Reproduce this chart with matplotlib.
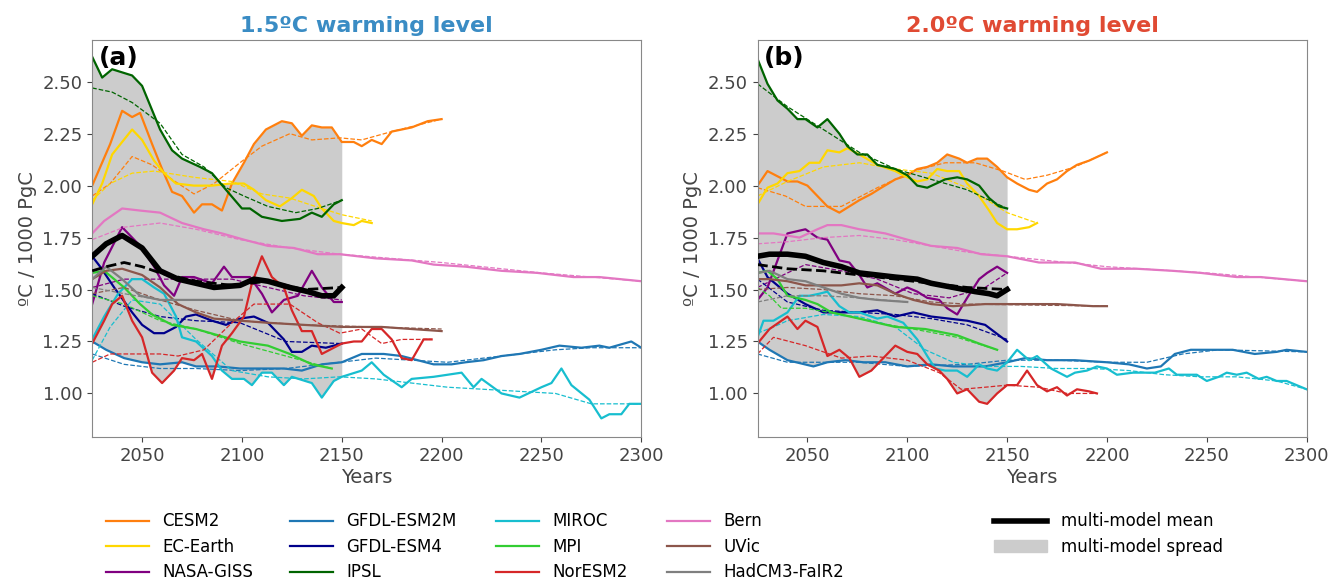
import matplotlib
matplotlib.use("Agg")
import matplotlib.pyplot as plt
import numpy as np
from matplotlib.patches import Patch
from matplotlib.lines import Line2D

# ---- panel (a): 1.5 C warming level; solid = annual series, *_fit = dashed smooth fit
cesm2_a = [(2025,2.00),(2034,2.20),(2040,2.36),(2045,2.33),(2049,2.35),(2055,2.20),(2060,2.08),(2065,1.97),(2070,1.95),(2076,1.87),(2080,1.91),(2085,1.91),(2090,1.88),(2095,2.01),(2101,2.11),(2106,2.20),(2112,2.27),(2120,2.31),(2125,2.30),(2130,2.24),(2135,2.29),(2140,2.28),(2145,2.28),(2150,2.21),(2156,2.21),(2160,2.19),(2165,2.22),(2170,2.20),(2175,2.26),(2185,2.28),(2193,2.31),(2200,2.32)]
cesm2_a_fit = [(2025,1.95),(2034,2.01),(2045,2.14),(2055,2.10),(2065,2.03),(2076,1.96),(2086,2.01),(2099,2.11),(2110,2.19),(2124,2.25),(2135,2.22),(2149,2.23),(2160,2.22),(2175,2.26),(2200,2.32)]
ecearth_a = [(2025,1.91),(2030,2.01),(2035,2.15),(2045,2.27),(2050,2.22),(2056,2.12),(2061,2.06),(2067,2.01),(2076,2.00),(2085,2.00),(2094,2.01),(2101,2.01),(2106,1.98),(2112,1.93),(2119,1.90),(2125,1.94),(2130,1.98),(2136,1.95),(2140,1.89),(2146,1.83),(2150,1.82),(2156,1.81),(2160,1.83),(2165,1.82)]
ecearth_a_fit = [(2025,1.93),(2034,2.01),(2045,2.06),(2056,2.07),(2076,2.04),(2095,2.02),(2110,1.96),(2124,1.94),(2140,1.89),(2150,1.86),(2165,1.83)]
nasa_a = [(2025,1.43),(2031,1.63),(2040,1.80),(2049,1.71),(2056,1.61),(2061,1.52),(2066,1.47),(2070,1.56),(2076,1.56),(2085,1.53),(2091,1.61),(2095,1.56),(2104,1.56),(2110,1.48),(2115,1.39),(2121,1.45),(2128,1.47),(2135,1.59),(2140,1.51),(2146,1.44),(2150,1.44)]
nasa_a_fit = [(2025,1.51),(2041,1.55),(2059,1.55),(2077,1.55),(2095,1.55),(2113,1.51),(2131,1.47),(2150,1.45)]
esm2m_a = [(2025,1.25),(2032,1.21),(2041,1.17),(2050,1.15),(2059,1.14),(2070,1.15),(2077,1.13),(2088,1.13),(2099,1.12),(2110,1.12),(2121,1.12),(2130,1.11),(2140,1.14),(2150,1.15),(2160,1.19),(2171,1.19),(2180,1.18),(2196,1.14),(2205,1.14),(2212,1.15),(2221,1.16),(2230,1.18),(2239,1.19),(2250,1.21),(2259,1.23),(2270,1.22),(2279,1.23),(2284,1.22),(2295,1.25),(2300,1.22)]
esm2m_a_fit = [(2025,1.19),(2041,1.14),(2059,1.12),(2077,1.12),(2099,1.11),(2122,1.12),(2149,1.15),(2167,1.17),(2185,1.16),(2203,1.15),(2221,1.17),(2239,1.19),(2257,1.21),(2275,1.22),(2300,1.22)]
esm4_a = [(2025,1.66),(2029,1.61),(2036,1.51),(2045,1.39),(2050,1.33),(2056,1.29),(2061,1.29),(2067,1.32),(2072,1.37),(2077,1.38),(2085,1.35),(2092,1.33),(2099,1.36),(2106,1.37),(2113,1.34),(2121,1.26),(2125,1.20),(2130,1.20),(2135,1.23),(2142,1.22),(2150,1.24)]
esm4_a_fit = [(2025,1.48),(2041,1.42),(2059,1.37),(2077,1.35),(2099,1.34),(2122,1.25),(2150,1.24)]
ipsl_a = [(2025,2.62),(2030,2.52),(2035,2.56),(2045,2.53),(2050,2.48),(2059,2.27),(2065,2.17),(2070,2.13),(2079,2.09),(2085,2.06),(2092,1.98),(2100,1.89),(2104,1.89),(2110,1.85),(2120,1.83),(2129,1.84),(2135,1.87),(2140,1.85),(2146,1.91),(2150,1.93)]
ipsl_a_fit = [(2025,2.47),(2035,2.45),(2045,2.40),(2059,2.30),(2070,2.15),(2081,2.09),(2092,1.99),(2101,1.95),(2113,1.90),(2127,1.87),(2138,1.89),(2150,1.93)]
miroc_a = [(2025,1.26),(2031,1.37),(2038,1.48),(2045,1.55),(2050,1.55),(2056,1.51),(2061,1.48),(2067,1.37),(2070,1.27),(2077,1.25),(2085,1.18),(2090,1.11),(2095,1.07),(2101,1.07),(2105,1.04),(2110,1.10),(2115,1.10),(2121,1.04),(2125,1.08),(2135,1.05),(2140,0.98),(2146,1.06),(2150,1.08),(2160,1.11),(2165,1.15),(2171,1.09),(2180,1.03),(2185,1.07),(2196,1.08),(2210,1.10),(2216,1.03),(2220,1.07),(2230,1.00),(2239,0.98),(2250,1.03),(2255,1.05),(2260,1.12),(2265,1.04),(2274,0.97),(2280,0.88),(2284,0.90),(2290,0.90),(2294,0.95),(2300,0.95)]
miroc_a_fit = [(2025,1.16),(2034,1.32),(2045,1.45),(2059,1.43),(2077,1.26),(2095,1.11),(2113,1.08),(2131,1.07),(2149,1.08),(2167,1.07),(2185,1.05),(2203,1.03),(2221,1.02),(2239,1.01),(2257,1.00),(2275,0.95),(2300,0.95)]
mpi_a = [(2025,1.58),(2031,1.59),(2036,1.55),(2041,1.51),(2049,1.43),(2055,1.38),(2065,1.33),(2077,1.31),(2088,1.28),(2099,1.25),(2113,1.23),(2124,1.19),(2135,1.14),(2145,1.12)]
mpi_a_fit = [(2025,1.47),(2041,1.43),(2059,1.35),(2077,1.31),(2099,1.24),(2122,1.18),(2145,1.12)]
noresm_a = [(2025,1.24),(2031,1.35),(2035,1.43),(2040,1.47),(2045,1.35),(2050,1.27),(2055,1.10),(2060,1.05),(2066,1.11),(2070,1.17),(2076,1.16),(2080,1.19),(2085,1.07),(2090,1.23),(2095,1.29),(2101,1.37),(2105,1.53),(2110,1.66),(2115,1.56),(2121,1.51),(2125,1.40),(2130,1.30),(2135,1.30),(2140,1.19),(2146,1.22),(2150,1.24),(2156,1.25),(2160,1.25),(2165,1.31),(2170,1.31),(2175,1.26),(2180,1.17),(2185,1.16),(2191,1.26),(2195,1.26)]
noresm_a_fit = [(2025,1.15),(2034,1.19),(2045,1.19),(2059,1.19),(2068,1.18),(2081,1.21),(2095,1.34),(2106,1.43),(2124,1.43),(2138,1.34),(2149,1.29),(2160,1.31),(2170,1.24),(2180,1.26),(2195,1.26)]
bern_a = [(2025,1.77),(2031,1.83),(2040,1.89),(2049,1.88),(2059,1.87),(2070,1.82),(2081,1.79),(2090,1.77),(2101,1.74),(2113,1.71),(2126,1.70),(2138,1.67),(2149,1.67),(2167,1.65),(2185,1.64),(2196,1.62),(2212,1.61),(2230,1.59),(2248,1.58),(2266,1.56),(2279,1.56),(2300,1.54)]
bern_a_fit = [(2025,1.74),(2041,1.80),(2059,1.82),(2077,1.79),(2099,1.74),(2124,1.70),(2149,1.67),(2200,1.63),(2250,1.58),(2300,1.54)]
uvic_a = [(2025,1.55),(2032,1.59),(2040,1.60),(2050,1.57),(2059,1.51),(2068,1.43),(2077,1.39),(2086,1.36),(2099,1.35),(2113,1.34),(2131,1.33),(2150,1.32),(2170,1.32),(2185,1.31),(2200,1.30)]
uvic_a_fit = [(2025,1.48),(2041,1.51),(2059,1.45),(2077,1.40),(2099,1.35),(2131,1.33),(2200,1.31)]
hadcm3_a = [(2025,1.55),(2032,1.61),(2040,1.55),(2049,1.47),(2059,1.45),(2077,1.45),(2100,1.45)]
hadcm3_a_fit = [(2025,1.51),(2041,1.48),(2059,1.45),(2100,1.45)]
mean_a = [(2025,1.66),(2032,1.72),(2040,1.76),(2050,1.70),(2059,1.59),(2068,1.55),(2077,1.53),(2086,1.51),(2099,1.52),(2106,1.55),(2113,1.54),(2124,1.51),(2133,1.49),(2140,1.47),(2146,1.47),(2150,1.51)]
mean_a_fit = [(2025,1.59),(2032,1.61),(2041,1.63),(2050,1.61),(2059,1.58),(2077,1.54),(2095,1.52),(2113,1.54),(2131,1.50),(2150,1.51)]

# ---- panel (b): 2.0 C warming level
cesm2_b = [(2025,2.00),(2030,2.07),(2040,2.02),(2045,2.02),(2050,2.00),(2055,1.95),(2060,1.90),(2066,1.87),(2071,1.90),(2076,1.93),(2082,1.96),(2087,1.99),(2094,2.03),(2100,2.05),(2105,2.08),(2110,2.09),(2115,2.11),(2120,2.15),(2126,2.13),(2130,2.11),(2135,2.13),(2140,2.13),(2145,2.09),(2150,2.04),(2155,2.01),(2161,1.98),(2165,1.97),(2170,2.01),(2175,2.03),(2180,2.07),(2185,2.10),(2191,2.12),(2200,2.16)]
cesm2_b_fit = [(2025,1.99),(2039,1.95),(2049,1.90),(2067,1.90),(2085,1.99),(2103,2.07),(2119,2.11),(2134,2.11),(2148,2.07),(2159,2.03),(2170,2.05),(2184,2.09),(2200,2.16)]
ecearth_b = [(2025,1.91),(2030,1.99),(2035,2.01),(2040,2.06),(2046,2.07),(2051,2.11),(2056,2.11),(2060,2.17),(2066,2.16),(2070,2.18),(2076,2.15),(2085,2.10),(2094,2.07),(2100,2.04),(2105,2.02),(2110,2.03),(2115,2.08),(2120,2.07),(2126,2.07),(2130,2.01),(2136,1.95),(2141,1.88),(2145,1.82),(2150,1.79),(2155,1.79),(2161,1.80),(2165,1.82)]
ecearth_b_fit = [(2025,1.95),(2040,2.02),(2058,2.09),(2076,2.11),(2094,2.08),(2112,2.06),(2130,1.99),(2150,1.87),(2165,1.82)]
nasa_b = [(2025,1.45),(2030,1.51),(2035,1.64),(2040,1.77),(2049,1.79),(2055,1.75),(2060,1.74),(2066,1.64),(2071,1.63),(2076,1.57),(2080,1.51),(2085,1.53),(2094,1.48),(2100,1.51),(2105,1.49),(2110,1.46),(2116,1.45),(2120,1.41),(2125,1.38),(2130,1.46),(2136,1.55),(2140,1.58),(2145,1.61),(2150,1.58)]
nasa_b_fit = [(2025,1.51),(2040,1.58),(2049,1.62),(2067,1.59),(2085,1.55),(2103,1.48),(2121,1.46),(2139,1.51),(2150,1.58)]
esm2m_b = [(2025,1.25),(2031,1.21),(2040,1.16),(2053,1.13),(2060,1.15),(2069,1.16),(2078,1.15),(2089,1.15),(2100,1.13),(2112,1.14),(2123,1.13),(2130,1.13),(2139,1.13),(2150,1.15),(2159,1.17),(2170,1.16),(2184,1.16),(2200,1.15),(2211,1.14),(2220,1.12),(2227,1.13),(2234,1.19),(2242,1.21),(2250,1.21),(2263,1.21),(2274,1.19),(2285,1.20),(2290,1.21),(2300,1.20)]
esm2m_b_fit = [(2025,1.19),(2040,1.15),(2058,1.15),(2076,1.15),(2100,1.13),(2130,1.14),(2150,1.16),(2175,1.16),(2200,1.15),(2220,1.15),(2238,1.19),(2256,1.21),(2300,1.20)]
esm4_b = [(2025,1.65),(2030,1.56),(2035,1.52),(2040,1.48),(2049,1.43),(2058,1.39),(2067,1.39),(2076,1.39),(2085,1.40),(2094,1.37),(2103,1.39),(2112,1.37),(2121,1.36),(2130,1.35),(2139,1.33),(2150,1.25)]
esm4_b_fit = [(2025,1.55),(2040,1.44),(2058,1.40),(2076,1.39),(2094,1.38),(2112,1.36),(2130,1.33),(2150,1.26)]
ipsl_b = [(2025,2.61),(2030,2.49),(2035,2.41),(2040,2.37),(2045,2.32),(2049,2.32),(2055,2.28),(2060,2.32),(2066,2.25),(2070,2.19),(2075,2.15),(2080,2.15),(2085,2.10),(2094,2.08),(2100,2.05),(2105,2.00),(2110,1.99),(2119,2.03),(2125,2.04),(2130,2.03),(2136,2.00),(2141,1.94),(2146,1.90),(2150,1.89)]
ipsl_b_fit = [(2025,2.49),(2040,2.38),(2058,2.27),(2076,2.16),(2094,2.08),(2112,2.03),(2130,1.98),(2150,1.89)]
miroc_b = [(2025,1.27),(2028,1.35),(2033,1.35),(2040,1.39),(2046,1.47),(2051,1.47),(2056,1.48),(2060,1.49),(2066,1.42),(2071,1.39),(2076,1.39),(2085,1.36),(2090,1.37),(2098,1.34),(2105,1.26),(2110,1.18),(2114,1.12),(2119,1.11),(2125,1.11),(2130,1.08),(2136,1.14),(2140,1.12),(2145,1.11),(2150,1.15),(2155,1.21),(2161,1.16),(2165,1.18),(2172,1.12),(2180,1.08),(2184,1.10),(2190,1.11),(2195,1.13),(2200,1.12),(2205,1.09),(2213,1.10),(2224,1.10),(2231,1.12),(2235,1.09),(2245,1.09),(2250,1.06),(2256,1.08),(2260,1.10),(2265,1.09),(2270,1.10),(2276,1.07),(2280,1.08),(2285,1.06),(2290,1.06),(2300,1.02)]
miroc_b_fit = [(2025,1.29),(2033,1.32),(2040,1.35),(2058,1.38),(2076,1.37),(2094,1.32),(2109,1.21),(2123,1.15),(2139,1.13),(2157,1.13),(2175,1.12),(2193,1.12),(2211,1.11),(2229,1.09),(2247,1.08),(2265,1.08),(2285,1.06),(2300,1.02)]
mpi_b = [(2025,1.58),(2030,1.59),(2035,1.55),(2040,1.47),(2049,1.45),(2055,1.43),(2062,1.39),(2076,1.36),(2094,1.32),(2109,1.31),(2125,1.28),(2136,1.24),(2145,1.21)]
mpi_b_fit = [(2025,1.51),(2031,1.47),(2037,1.41),(2049,1.41),(2067,1.38),(2085,1.34),(2103,1.31),(2125,1.27),(2145,1.21)]
noresm_b = [(2025,1.24),(2031,1.31),(2040,1.37),(2045,1.31),(2049,1.35),(2055,1.32),(2060,1.18),(2066,1.21),(2071,1.17),(2076,1.08),(2082,1.11),(2087,1.16),(2094,1.23),(2100,1.20),(2105,1.19),(2110,1.14),(2116,1.11),(2120,1.07),(2125,1.00),(2130,1.02),(2136,0.96),(2140,0.95),(2145,1.00),(2150,1.04),(2155,1.04),(2160,1.11),(2165,1.04),(2170,1.01),(2175,1.03),(2180,0.99),(2185,1.02),(2191,1.01),(2195,1.00)]
noresm_b_fit = [(2025,1.19),(2033,1.27),(2049,1.23),(2067,1.17),(2082,1.18),(2100,1.16),(2116,1.10),(2127,1.02),(2139,1.03),(2150,1.04),(2166,1.03),(2180,1.00),(2195,1.00)]
bern_b = [(2025,1.77),(2033,1.77),(2046,1.75),(2055,1.79),(2060,1.81),(2067,1.81),(2076,1.79),(2089,1.77),(2100,1.74),(2112,1.71),(2125,1.70),(2137,1.67),(2150,1.66),(2166,1.63),(2184,1.63),(2197,1.60),(2215,1.60),(2233,1.59),(2247,1.58),(2265,1.56),(2277,1.56),(2300,1.54)]
bern_b_fit = [(2025,1.72),(2040,1.73),(2058,1.75),(2076,1.76),(2094,1.74),(2112,1.71),(2130,1.68),(2150,1.66),(2200,1.61),(2250,1.58),(2300,1.54)]
uvic_b = [(2025,1.55),(2031,1.55),(2040,1.54),(2049,1.52),(2058,1.52),(2067,1.52),(2076,1.53),(2085,1.52),(2094,1.48),(2103,1.45),(2112,1.43),(2123,1.42),(2139,1.43),(2157,1.43),(2175,1.43),(2193,1.42),(2200,1.42)]
uvic_b_fit = [(2025,1.50),(2040,1.51),(2058,1.50),(2076,1.48),(2094,1.47),(2112,1.44),(2130,1.43),(2200,1.42)]
hadcm3_b = [(2025,1.58),(2031,1.59),(2040,1.55),(2049,1.54),(2058,1.51),(2067,1.48),(2076,1.46),(2085,1.45),(2100,1.44)]
hadcm3_b_fit = [(2025,1.44),(2040,1.47),(2058,1.47),(2076,1.46),(2100,1.44)]
mean_b = [(2025,1.66),(2031,1.67),(2040,1.67),(2049,1.66),(2058,1.63),(2067,1.61),(2076,1.58),(2085,1.57),(2094,1.56),(2105,1.55),(2112,1.53),(2123,1.51),(2134,1.49),(2141,1.48),(2145,1.47),(2150,1.50)]
mean_b_fit = [(2025,1.62),(2040,1.60),(2058,1.59),(2076,1.57),(2094,1.55),(2112,1.53),(2130,1.51),(2150,1.50)]

MODELS = ["CESM2", "EC-Earth", "NASA-GISS", "GFDL-ESM2M", "GFDL-ESM4", "IPSL",
          "MIROC", "MPI", "NorESM2", "Bern", "UVic", "HadCM3-FaIR2"]
COLORS = ["#ff7f0e", "#ffd700", "#800080", "#1f77b4", "#00008b", "#006400",
          "#17becf", "#32cd32", "#d62728", "#e377c2", "#8c564b", "#7f7f7f"]
PANEL_A = [(cesm2_a, cesm2_a_fit), (ecearth_a, ecearth_a_fit), (nasa_a, nasa_a_fit),
           (esm2m_a, esm2m_a_fit), (esm4_a, esm4_a_fit), (ipsl_a, ipsl_a_fit),
           (miroc_a, miroc_a_fit), (mpi_a, mpi_a_fit), (noresm_a, noresm_a_fit),
           (bern_a, bern_a_fit), (uvic_a, uvic_a_fit), (hadcm3_a, hadcm3_a_fit)]
PANEL_B = [(cesm2_b, cesm2_b_fit), (ecearth_b, ecearth_b_fit), (nasa_b, nasa_b_fit),
           (esm2m_b, esm2m_b_fit), (esm4_b, esm4_b_fit), (ipsl_b, ipsl_b_fit),
           (miroc_b, miroc_b_fit), (mpi_b, mpi_b_fit), (noresm_b, noresm_b_fit),
           (bern_b, bern_b_fit), (uvic_b, uvic_b_fit), (hadcm3_b, hadcm3_b_fit)]

TICK = "#444444"
plt.rcParams["font.family"] = "DejaVu Sans"

fig = plt.figure(figsize=(13.36, 5.82), dpi=100)
axes = [fig.add_axes([0.069, 0.249, 0.411, 0.682]),
        fig.add_axes([0.567, 0.249, 0.411, 0.682])]


def draw(ax, panel, mean, mean_fit, label, title, tcolor):
    grid = np.arange(2025, 2151)
    stack = []
    for series, _ in panel:
        yr, v = np.array(series).T
        row = np.interp(grid, yr, v, left=np.nan, right=np.nan)
        stack.append(row)
    stack = np.array(stack)
    ax.fill_between(grid, np.nanmin(stack, axis=0), np.nanmax(stack, axis=0),
                    color="#cccccc", lw=0, zorder=0)
    for (series, fit), c in zip(panel, COLORS):
        yr, v = np.array(series).T
        ax.plot(yr, v, color=c, lw=1.6, zorder=2)
        yr, v = np.array(fit).T
        ax.plot(yr, v, color=c, lw=0.9, ls="--", zorder=2)
    yr, v = np.array(mean).T
    ax.plot(yr, v, color="black", lw=4, zorder=3)
    yr, v = np.array(mean_fit).T
    ax.plot(yr, v, color="black", lw=2, ls="--", zorder=3)
    ax.set_xlim(2025, 2300)
    ax.set_ylim(0.79, 2.70)
    ax.set_xticks([2050, 2100, 2150, 2200, 2250, 2300])
    ax.set_yticks([1.00, 1.25, 1.50, 1.75, 2.00, 2.25, 2.50])
    ax.yaxis.set_major_formatter(matplotlib.ticker.FormatStrFormatter("%.2f"))
    ax.tick_params(labelsize=13, colors=TICK)
    for s in ax.spines.values():
        s.set_color("#888888")
    ax.set_xlabel("Years", fontsize=14, color=TICK, labelpad=2)
    ax.set_ylabel("ºC / 1000 PgC", fontsize=14, color=TICK)
    ax.set_title(title, fontsize=16, fontweight="bold", color=tcolor, pad=6)
    ax.text(0.012, 0.985, label, transform=ax.transAxes, fontsize=18,
            fontweight="bold", va="top", ha="left")


draw(axes[0], PANEL_A, mean_a, mean_a_fit, "(a)", "1.5ºC warming level", "#3a8cc4")
draw(axes[1], PANEL_B, mean_b, mean_b_fit, "(b)", "2.0ºC warming level", "#e04a33")

# one legend per column so the columns sit where the reference has them
for col, x0 in enumerate([0.074, 0.212, 0.366, 0.494]):
    sl = slice(col * 3, col * 3 + 3)
    handles = [Line2D([], [], color=c, lw=1.6) for c in COLORS[sl]]
    fig.legend(handles, MODELS[sl], loc="upper left", bbox_to_anchor=(x0, 0.131),
               frameon=False, fontsize=12, handlelength=2.6,
               labelspacing=0.45, borderaxespad=0)
fig.legend([Line2D([], [], color="black", lw=4), Patch(color="#cccccc")],
           ["multi-model mean", "multi-model spread"], loc="upper left",
           bbox_to_anchor=(0.739, 0.131), frameon=False, fontsize=12,
           handlelength=3.2, labelspacing=0.45, borderaxespad=0)

fig.savefig("out.png", dpi=100)
